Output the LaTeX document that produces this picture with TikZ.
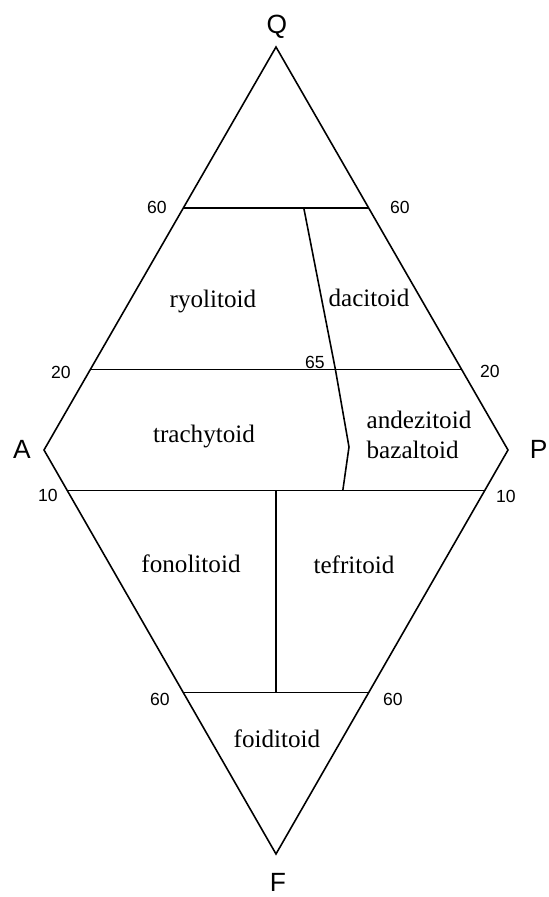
\documentclass[tikz,border=0pt]{standalone}
\usepackage{fontspec}
\setmainfont{Liberation Serif}
\newfontfamily\axisfont{Liberation Sans}
\usetikzlibrary{calc}

\begin{document}
\begin{tikzpicture}[line width=0.9pt, line join=miter,
    corner/.style={font=\axisfont\fontsize{15}{18}\selectfont, inner sep=0pt},
    tick/.style={font=\axisfont\fontsize{10}{12}\selectfont, inner sep=0pt},
    field/.style={font=\fontsize{14.3}{17.5}\selectfont, inner sep=0pt}]
    \useasboundingbox (0,0) rectangle (10.96,17.94);
    % 顶点
    \coordinate (Q) at (5.52,17.00);
    \coordinate (A) at (0.88,8.94);
    \coordinate (P) at (10.16,8.94);
    \coordinate (F) at (5.52,0.86);
    % 分界线端点
    \coordinate (A60) at ($(A)!0.6!(Q)$);
    \coordinate (P60) at ($(P)!0.6!(Q)$);
    \coordinate (A20) at ($(A)!0.2!(Q)$);
    \coordinate (P20) at ($(P)!0.2!(Q)$);
    \coordinate (A10) at ($(A)!0.1!(F)$);
    \coordinate (P10) at ($(P)!0.1!(F)$);
    \coordinate (Af60) at ($(A)!0.6!(F)$);
    \coordinate (Pf60) at ($(P)!0.6!(F)$);
    % 65 分界线
    \coordinate (d1) at ($(A60)!0.65!(P60)$);
    \coordinate (d2) at ($(A20)!0.66!(P20)$);
    \coordinate (d3) at (6.98,9.00);
    \coordinate (d4) at ($(A10)!0.66!(P10)$);
    % 中线
    \coordinate (m1) at ($(A10)!0.5!(P10)$);
    \coordinate (m2) at ($(Af60)!0.5!(Pf60)$);

    % 外框
    \draw (Q) -- (A) -- (F) -- (P) -- cycle;
    % 横线
    \draw (A60) -- (P60);
    \draw (A20) -- (P20);
    \draw (A10) -- (P10);
    \draw (Af60) -- (Pf60);
    % 竖线
    \draw (d1) -- (d2) -- (d3) -- (d4);
    \draw (m1) -- (m2);

    % 顶点标注
    \node[corner] (lq) at (5.54,17.40) {Q};
    \node[corner] (la) at (0.44,8.96) {A};
    \node[corner, anchor=west] (lp) at (10.58,8.96) {P};
    \node[corner] (lf) at (5.56,0.30) {F};

    % 刻度
    \node[tick] (t60a) at (3.14,13.80) {60};
    \node[tick] (t60b) at (8.00,13.80) {60};
    \node[tick] (t20a) at (1.22,10.50) {20};
    \node[tick] (t20b) at (9.80,10.52) {20};
    \node[tick] (t10a) at (0.96,8.04) {10};
    \node[tick] (t10b) at (10.12,8.02) {10};
    \node[tick] (t60c) at (3.20,3.96) {60};
    \node[tick] (t60d) at (7.86,3.96) {60};
    \node[tick] (t65) at (6.30,10.70) {65};

    % 区域名称
    \node[field] (ryo) at (4.26,11.92) {ryolitoid};
    \node[field] (dac) at (7.38,11.98) {dacitoid};
    \node[field] (tra) at (4.08,9.22) {trachytoid};
    \node[field, align=left] (and) at (8.38,9.24) {andezitoid\\bazaltoid};
    \node[field] (fon) at (3.82,6.66) {fonolitoid};
    \node[field] (tef) at (7.08,6.64) {tefritoid};
    \node[field] (foi) at (5.54,3.16) {foiditoid};
\end{tikzpicture}
\end{document}
